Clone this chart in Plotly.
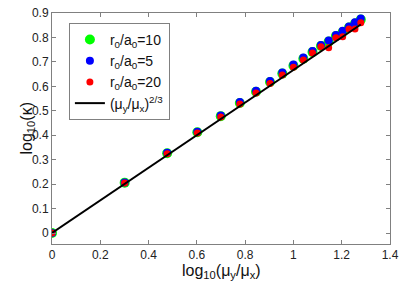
import plotly.graph_objects as go

x_vals = [0, 0.301, 0.477, 0.602, 0.699, 0.778, 0.845, 0.903, 0.954, 1.0,
          1.041, 1.079, 1.114, 1.146, 1.176, 1.204, 1.230, 1.255, 1.279]
green_y = [0, 0.206, 0.326, 0.412, 0.478, 0.532, 0.578, 0.618, 0.652, 0.684,
           0.713, 0.740, 0.765, 0.783, 0.806, 0.822, 0.841, 0.857, 0.873]
blue_y = [0, 0.207, 0.328, 0.414, 0.481, 0.536, 0.582, 0.622, 0.657, 0.689,
          0.718, 0.745, 0.769, 0.787, 0.810, 0.827, 0.845, 0.862, 0.877]
red_y = [0, 0.205, 0.324, 0.409, 0.475, 0.528, 0.573, 0.612, 0.646, 0.678,
         0.708, 0.736, 0.762, 0.758, 0.799, 0.803, 0.835, 0.835, 0.860]
line_x = [0, 1.279]
line_y = [0, 0.853]

x_ticks = [0, 0.2, 0.4, 0.6, 0.8, 1.0, 1.2, 1.4]
x_tick_text = ["0", "0.2", "0.4", "0.6", "0.8", "1", "1.2", "1.4"]
y_ticks = [0, 0.1, 0.2, 0.3, 0.4, 0.5, 0.6, 0.7, 0.8, 0.9]
y_tick_text = ["0", "0.1", "0.2", "0.3", "0.4", "0.5", "0.6", "0.7", "0.8", "0.9"]

font = "Liberation Sans, Arial, Helvetica, sans-serif"

fig = go.Figure()
fig.add_trace(go.Scatter(x=x_vals, y=green_y, mode="markers", name="r<sub>0</sub>/a<sub>0</sub>=10",
                         marker=dict(color="#00ff00", size=10, line=dict(width=0))))
fig.add_trace(go.Scatter(x=x_vals, y=blue_y, mode="markers", name="r<sub>0</sub>/a<sub>0</sub>=5",
                         marker=dict(color="#0000ff", size=8, line=dict(width=0))))
fig.add_trace(go.Scatter(x=x_vals, y=red_y, mode="markers", name="r<sub>0</sub>/a<sub>0</sub>=20",
                         marker=dict(color="#ff0000", size=7, line=dict(width=0))))
fig.add_trace(go.Scatter(x=line_x, y=line_y, mode="lines",
                         name="(μ<sub>y</sub>/μ<sub>x</sub>)<sup>2/3</sup>",
                         line=dict(color="black", width=2)))

axis_common = dict(showgrid=False, zeroline=False, showline=True, linecolor="#808080",
                   linewidth=1, mirror="allticks", ticks="inside", ticklen=4,
                   tickcolor="#808080", automargin=False,
                   tickfont=dict(family=font, size=12, color="#222"))

fig.update_layout(
    width=415, height=287,
    margin=dict(l=52, r=25, t=13, b=43),
    paper_bgcolor="white", plot_bgcolor="white",
    font=dict(family=font, color="#111"),
    xaxis=dict(range=[0, 1.4], tickvals=x_ticks, ticktext=x_tick_text, **axis_common),
    yaxis=dict(range=[-0.045, 0.9], tickvals=y_ticks, ticktext=y_tick_text, **axis_common),
    legend=dict(x=0.05, y=0.957, xanchor="left", yanchor="top",
                bordercolor="#808080", borderwidth=1, bgcolor="white",
                font=dict(family=font, size=14), itemsizing="trace",
                tracegroupgap=0),
    showlegend=True,
    annotations=[
        dict(text="log<sub>10</sub>(μ<sub>y</sub>/μ<sub>x</sub>)", xref="paper", yref="paper",
             x=0.5, y=0, yshift=-27, xanchor="center", yanchor="middle", showarrow=False,
             font=dict(family=font, size=16, color="#111")),
        dict(text="log<sub>10</sub>(κ)", xref="paper", yref="paper",
             x=0, y=0.5, xshift=-25, xanchor="center", yanchor="middle", showarrow=False,
             textangle=-90, font=dict(family=font, size=16, color="#111")),
    ],
)

fig.write_html("out.html", config={"displayModeBar": False},
               post_script="document.body.style.margin='0px';")
